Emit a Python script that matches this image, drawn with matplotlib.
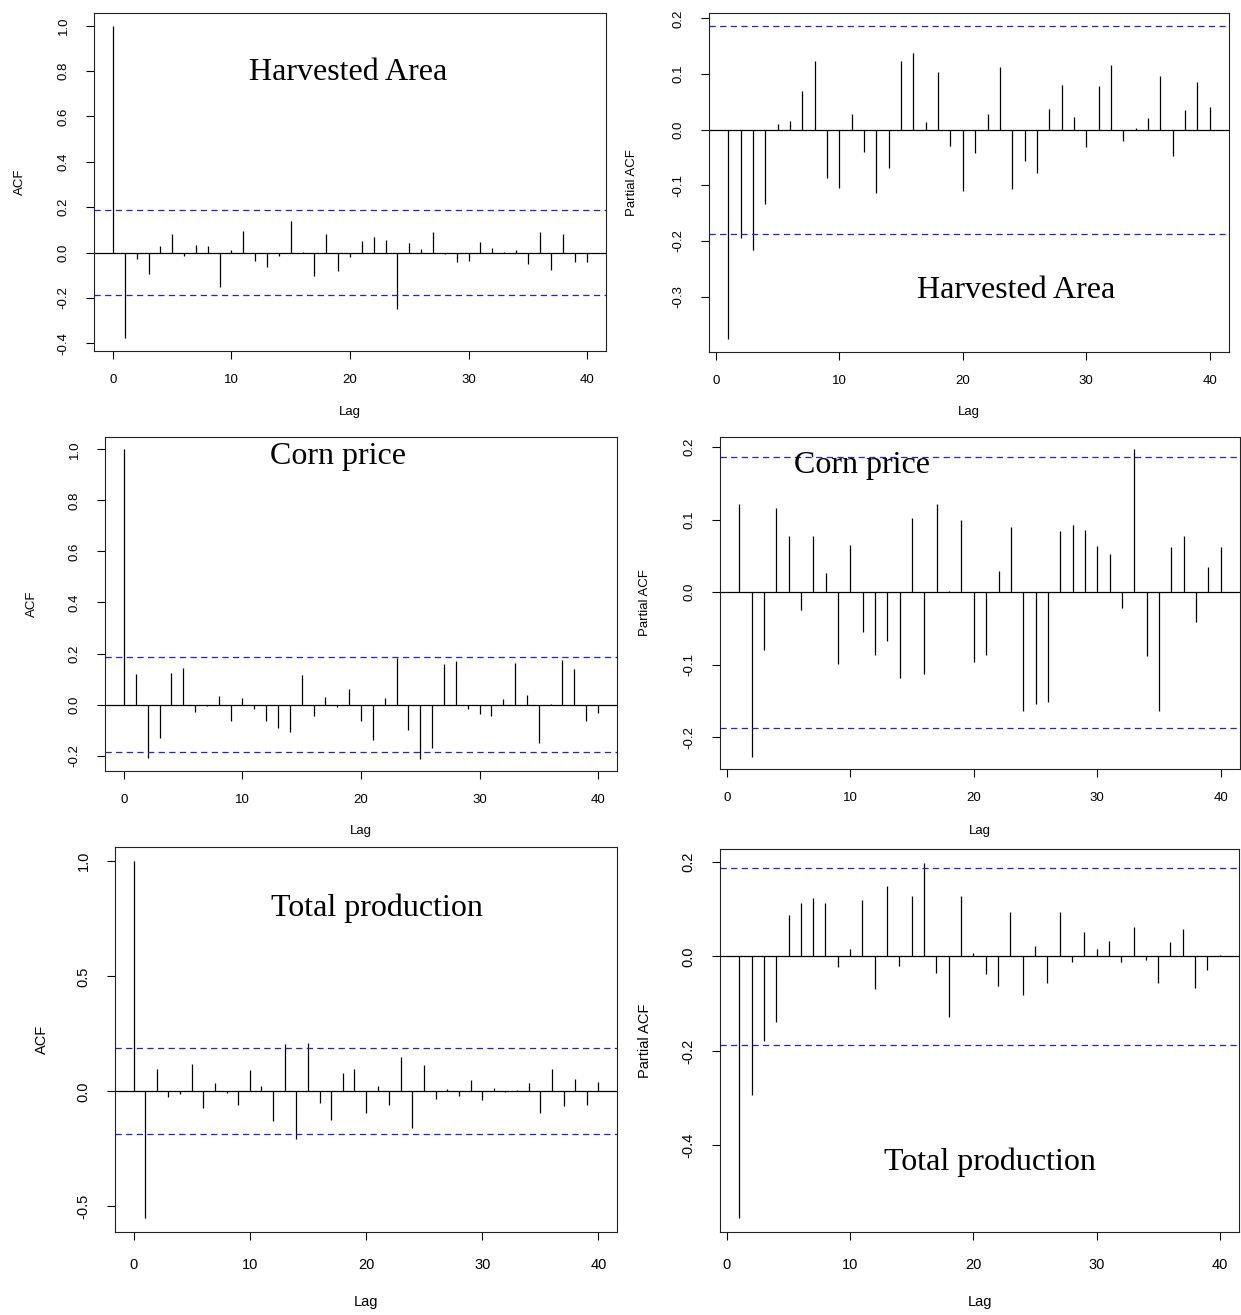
import matplotlib
matplotlib.use("Agg")
import matplotlib.pyplot as plt

plt.rcParams['axes.unicode_minus'] = False
plt.rcParams['font.family'] = ['Liberation Sans', 'DejaVu Sans']

# ---------------- data ----------------
lags_acf = list(range(0, 41))
lags_pacf = list(range(1, 41))
conf_limit = 0.187

acf_area = [1.0, -0.378, -0.027, -0.093, 0.028, 0.080, -0.015, 0.033, 0.028, -0.152, 0.010,
            0.096, -0.036, -0.062, -0.016, 0.139, 0.002, -0.102, 0.084, -0.081, -0.019,
            0.053, 0.068, 0.055, -0.246, 0.044, 0.018, 0.092, -0.006, -0.041, -0.036,
            0.049, 0.022, 0.003, 0.010, -0.050, 0.092, -0.076, 0.080, -0.040, -0.040]
pacf_area = [-0.377, -0.194, -0.216, -0.133, 0.011, 0.016, 0.070, 0.123, -0.087, -0.104,
             0.028, -0.040, -0.113, -0.069, 0.123, 0.138, 0.013, 0.103, -0.030, -0.110,
             -0.042, 0.028, 0.113, -0.107, -0.056, -0.078, 0.037, 0.080, 0.022, -0.031,
             0.078, 0.117, -0.020, 0.003, 0.021, 0.096, -0.048, 0.036, 0.085, 0.040]
acf_corn = [1.0, 0.120, -0.208, -0.130, 0.124, 0.143, -0.031, -0.005, 0.035, -0.063, 0.025,
            -0.018, -0.065, -0.091, -0.107, 0.116, -0.046, 0.031, -0.009, 0.061, -0.064,
            -0.138, 0.026, 0.182, -0.100, -0.212, -0.172, 0.160, 0.171, -0.016, -0.039,
            -0.046, 0.020, 0.164, 0.038, -0.152, 0.002, 0.174, 0.139, -0.065, -0.033]
pacf_corn = [0.122, -0.227, -0.080, 0.116, 0.078, -0.025, 0.077, 0.027, -0.099, 0.065,
             -0.055, -0.087, -0.068, -0.119, 0.102, -0.113, 0.121, 0.001, 0.099, -0.096,
             -0.087, 0.029, 0.090, -0.164, -0.154, -0.151, 0.084, 0.092, 0.085, 0.064,
             0.052, -0.022, 0.197, -0.088, -0.164, 0.062, 0.078, -0.041, 0.035, 0.062]
acf_prod = [1.0, -0.549, 0.099, -0.026, -0.012, 0.117, -0.072, 0.035, -0.007, -0.059, 0.091,
            0.022, -0.129, 0.204, -0.209, 0.209, -0.051, -0.125, 0.080, 0.096, -0.094,
            0.022, -0.059, 0.148, -0.159, 0.113, -0.033, 0.012, -0.020, 0.051, -0.038,
            0.016, -0.003, 0.007, 0.038, -0.094, 0.099, -0.064, 0.055, -0.059, 0.042]
pacf_prod = [-0.553, -0.294, -0.178, -0.139, 0.087, 0.113, 0.123, 0.113, -0.022, 0.015,
             0.119, -0.070, 0.149, -0.020, 0.128, 0.197, -0.036, -0.128, 0.128, 0.006,
             -0.037, -0.062, 0.094, -0.081, 0.022, -0.056, 0.094, -0.013, 0.051, 0.016,
             0.032, -0.011, 0.062, -0.007, -0.056, 0.030, 0.058, -0.068, -0.028, 0.002]

series_names = ["Harvested Area", "Corn price", "Total production"]
x_ticks = [0, 10, 20, 30, 40]
y_ticks = [
    [-0.4, -0.2, 0.0, 0.2, 0.4, 0.6, 0.8, 1.0],
    [-0.3, -0.2, -0.1, 0.0, 0.1, 0.2],
    [-0.2, 0.0, 0.2, 0.4, 0.6, 0.8, 1.0],
    [-0.2, -0.1, 0.0, 0.1, 0.2],
    [-0.5, 0.0, 0.5, 1.0],
    [-0.4, -0.2, 0.0, 0.2],
]

# ---------------- layout (pixels) ----------------
W, H = 1241, 1315
fig = plt.figure(figsize=(W / 100, H / 100), dpi=100)

boxes = [  # left, top, right, bottom
    (94, 13, 606, 351), (709, 13, 1229, 352),
    (105, 437, 617, 771), (720, 437, 1240, 769),
    (115, 847, 617, 1232), (720, 849, 1239, 1232),
]
title_pos = [(348, 80), (1016, 298), (338, 464), (862, 473), (377, 916), (990, 1170)]
ylabel_x = [20, 632, 32, 645, 42, 645]
xlabel_y = [412, 412, 831, 831, 1302, 1302]
tick_size = [9.5, 9.5, 9.5, 9.5, 10.5, 10.5]
xpad = [11, 11, 11, 11, 13, 13]

panels = [
    (lags_acf, acf_area, "ACF"), (lags_pacf, pacf_area, "Partial ACF"),
    (lags_acf, acf_corn, "ACF"), (lags_pacf, pacf_corn, "Partial ACF"),
    (lags_acf, acf_prod, "ACF"), (lags_pacf, pacf_prod, "Partial ACF"),
]
blue = "#1f1fee"

for i, (lags, vals, ylab) in enumerate(panels):
    l, t, r, b = boxes[i]
    ax = fig.add_axes([l / W, 1 - b / H, (r - l) / W, (b - t) / H])
    ax.vlines(lags, 0, vals, colors="black", lw=0.9)
    ax.axhline(0, color="black", lw=0.9)
    for s in (conf_limit, -conf_limit):
        ax.axhline(s, color=blue, lw=0.9, ls=(0, (5, 3.5)))
    lo = min(min(vals), -conf_limit)
    hi = max(max(vals), conf_limit)
    ax.set_ylim(lo - 0.04 * (hi - lo), hi + 0.04 * (hi - lo))
    xl0, xl1 = min(lags), max(lags)
    ax.set_xlim(xl0 - 0.04 * (xl1 - xl0), xl1 + 0.04 * (xl1 - xl0))
    ax.set_xticks(x_ticks)
    ax.set_yticks(y_ticks[i])
    ax.set_yticklabels([f"{v:.1f}" for v in y_ticks[i]], rotation=90, va="center")
    ax.tick_params(axis="both", direction="out", length=5.5, width=0.8,
                   labelsize=tick_size[i], colors="black")
    ax.tick_params(axis="y", pad=12)
    ax.tick_params(axis="x", pad=xpad[i])
    for sp in ax.spines.values():
        sp.set_linewidth(0.8)
        sp.set_color("#222222")
    ax.set_ylabel(ylab, fontsize=tick_size[i])
    ax.set_xlabel("Lag", fontsize=tick_size[i])
    ax.yaxis.set_label_coords(ylabel_x[i] / W, 1 - ((t + b) / 2) / H, transform=fig.transFigure)
    ax.xaxis.set_label_coords(((l + r) / 2) / W, 1 - xlabel_y[i] / H, transform=fig.transFigure)
    ax.xaxis.label.set_va("center")
    ax.yaxis.label.set_va("center")
    tx, ty = title_pos[i]
    fig.text(tx / W, 1 - ty / H, series_names[i // 2], ha="center", va="baseline",
             fontsize=23, family=["Liberation Serif", "DejaVu Serif"])

fig.savefig("out.png", dpi=100)
